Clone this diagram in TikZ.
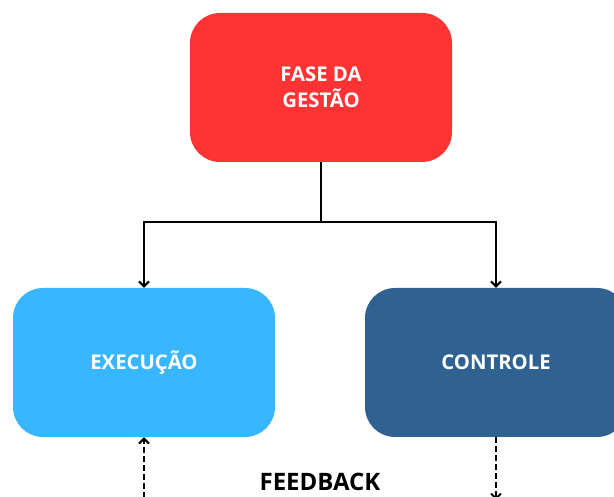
\documentclass[tikz,border=0pt]{standalone}
\usepackage{fontspec}
\setmainfont{Open Sans}
\usetikzlibrary{arrows.meta}
\definecolor{phasered}{RGB}{255,51,51}
\definecolor{execblue}{RGB}{56,182,255}
\definecolor{ctrlblue}{RGB}{47,98,145}
\tikzset{
  x=1pt, y=1pt,
  card/.style={rounded corners=30pt, minimum width=262pt, minimum height=149pt,
    inner sep=0pt, text=white, align=center, font=\fontsize{20.3}{26}\selectfont\bfseries},
  flow/.style={line width=2.4pt, -{Straight Barb[length=5pt,width=10pt,line width=2pt]}},
  feed/.style={line width=2.4pt, dash pattern=on 6pt off 3pt,
    -{Straight Barb[length=5pt,width=10pt,line width=2pt]}}
}
\begin{document}
\begin{tikzpicture}
  \useasboundingbox (0,0) rectangle (614,497);
  \clip (0,0) rectangle (614,497);
  \fill[white] (0,0) rectangle (614,497);

  % the three phase boxes
  \node[card, fill=phasered] (gestao) at (321,409.5) {FASE DA\\GESTÃO};
  \node[card, fill=execblue] (exec) at (144,134.5) {EXECUÇÃO};
  \node[card, fill=ctrlblue] (ctrl) at (496,134.5) {CONTROLE};

  % branching connector
  \coordinate (split) at (321,275);
  \draw[line width=2.4pt] (gestao.south) -- (split);
  \draw[flow] (split) -| (exec.north);
  \draw[flow] (split) -| (ctrl.north);

  % feedback loop, running off the bottom edge
  \coordinate (fbleft) at (144,-10);
  \coordinate (fbright) at (496,-3);
  \draw[feed] (fbleft) -- (exec.south);
  \draw[feed] (ctrl.south) -- (fbright);
  \node[font=\fontsize{24}{28}\selectfont\bfseries] (fb) at (320,15) {FEEDBACK};
\end{tikzpicture}
\end{document}
